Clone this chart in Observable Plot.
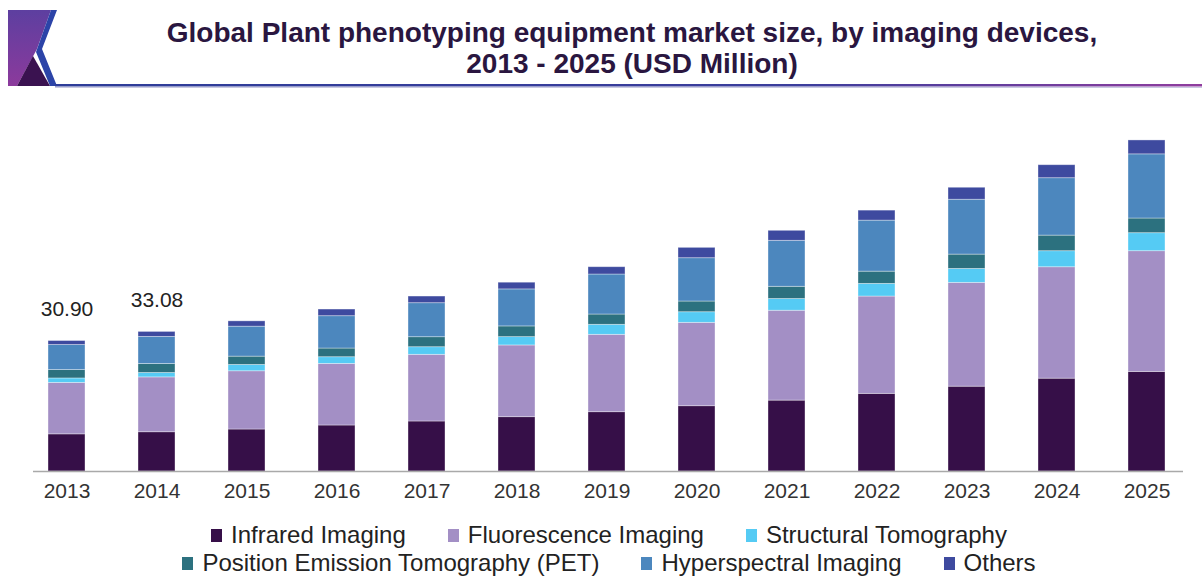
<!DOCTYPE html>
<html><head><meta charset="utf-8">
<script src="https://cdn.jsdelivr.net/npm/d3@7"></script>
<script src="https://cdn.jsdelivr.net/npm/@observablehq/plot@0.6"></script>
<style>
body{margin:0;background:#fff;font-family:"Liberation Sans",Arial,sans-serif;}
#root{position:relative;width:1202px;height:576px;overflow:hidden;background:#fff;}
#logo{position:absolute;left:0;top:0;}
#title{position:absolute;left:62px;width:1140px;top:17px;text-align:center;font-weight:bold;font-size:28px;line-height:31px;color:#2a1640;}
#chart{position:absolute;left:0;top:100px;}
#legend{position:absolute;left:16px;top:521px;width:1186px;font-size:24px;color:#222;}
.row{display:flex;justify-content:center;height:28px;align-items:center;white-space:nowrap;}
.item{display:flex;align-items:center;margin:0 21px;}
.sw{width:11px;height:13px;margin-right:9px;flex:none;}
</style></head><body>
<div id="root">
<svg id="logo" width="1202" height="95">
  <defs>
    <linearGradient id="lg" x1="0" y1="0" x2="0" y2="1">
      <stop offset="0" stop-color="#5d3fa0"/><stop offset="1" stop-color="#8c3a9c"/>
    </linearGradient>
    <linearGradient id="ln" x1="0" y1="0" x2="1" y2="0">
      <stop offset="0" stop-color="#2e3d99"/><stop offset="0.65" stop-color="#3b3d9c"/><stop offset="1" stop-color="#903d9e"/>
    </linearGradient>
  </defs>
  <polygon points="8,10 51,10 37,49 17,86 8,86" fill="url(#lg)"/>
  <polygon points="51,10 57,10 42,49 57,86 50,86 36,52" fill="#2c44a8"/>
  <polygon points="17,86 33,56 50,86" fill="#3a1250"/>
  <rect x="55" y="84" width="1147" height="2.5" fill="url(#ln)"/>
  <rect x="55" y="87" width="1147" height="1" fill="#c9c9e2"/>
</svg>
<div id="title">Global Plant phenotyping equipment market size, by imaging devices,<br>2013 - 2025 (USD Million)</div>
<div id="chart"></div>
<div id="legend"></div>
</div>
<script>
const years = ["2013","2014","2015","2016","2017","2018","2019","2020","2021","2022","2023","2024","2025"];
const infrared     = [8.80, 9.30, 9.95, 10.90, 11.85, 12.87, 14.05, 15.47, 16.80, 18.40, 20.10, 22.00, 23.60];
const fluorescence = [12.20, 13.00, 13.80, 14.60, 15.80, 17.00, 18.34, 19.76, 21.30, 23.06, 24.60, 26.40, 28.60];
const structural   = [1.05, 1.04, 1.50, 1.58, 1.80, 1.97, 2.37, 2.51, 2.77, 3.00, 3.30, 3.80, 4.27];
const pet          = [1.98, 2.13, 1.97, 2.06, 2.37, 2.54, 2.44, 2.54, 2.90, 2.90, 3.40, 3.70, 3.48];
const hyperspectral= [5.94, 6.43, 7.10, 7.66, 8.06, 8.77, 9.48, 10.26, 10.90, 12.09, 13.00, 13.60, 15.20];
const others       = [0.95, 1.18, 1.26, 1.58, 1.58, 1.59, 1.73, 2.46, 2.37, 2.37, 2.84, 3.08, 3.30];
const seriesNames = ["Infrared Imaging","Fluorescence Imaging","Structural Tomography","Position Emission Tomography (PET)","Hyperspectral Imaging","Others"];
const seriesColors = ["#360f48","#a38fc5","#55cbf4","#2c717f","#4c87be","#3e4a9f"];
const labelYears = ["2013","2014"];
const labelTotals = [30.90, 33.08];
const labelTexts = ["30.90","33.08"];
const legendRows = [[0,1,2],[3,4,5]];

const seriesValues = [infrared, fluorescence, structural, pet, hyperspectral, others];
const rows = [];
years.forEach((yr, i) => seriesValues.forEach((arr, k) => rows.push({year: yr, series: seriesNames[k], value: arr[i]})));
const labels = labelYears.map((y, i) => ({year: y, total: labelTotals[i], label: labelTexts[i]}));

const chart = Plot.plot({
  width: 1202, height: 410,
  marginLeft: 33, marginRight: 19, marginTop: 0, marginBottom: 39,
  style: {fontFamily: "'Liberation Sans', Arial, sans-serif", background: "transparent"},
  x: {domain: years, range: [-5, 1218], padding: 0.589, round: false, axis: null},
  y: {domain: [0, 90], range: [371, 371 - 4.22 * 90], axis: null},
  color: {domain: seriesNames, range: seriesColors},
  marks: [
    Plot.barY(rows, Plot.stackY({x: "year", y: "value", fill: "series", stroke: "white", strokeOpacity: 0.45, strokeWidth: 0.8})),
    Plot.ruleY([0], {stroke: "#a9a9a9", strokeWidth: 1.5}),
    Plot.text(years, {x: d => d, y: 0, dy: 20, text: d => d, fontSize: 21, fill: "#333"}),
    Plot.text(labels, {x: "year", y: "total", dy: -32, text: "label", fontSize: 21, fill: "#222"})
  ]
});
document.getElementById("chart").appendChild(chart);

const leg = document.getElementById("legend");
legendRows.forEach(r => {
  const row = document.createElement("div");
  row.className = "row";
  r.forEach(k => {
    const it = document.createElement("div");
    it.className = "item";
    const sw = document.createElement("div");
    sw.className = "sw";
    sw.style.background = seriesColors[k];
    const tx = document.createElement("span");
    tx.textContent = seriesNames[k];
    it.appendChild(sw); it.appendChild(tx);
    row.appendChild(it);
  });
  leg.appendChild(row);
});
</script>
</body></html>
